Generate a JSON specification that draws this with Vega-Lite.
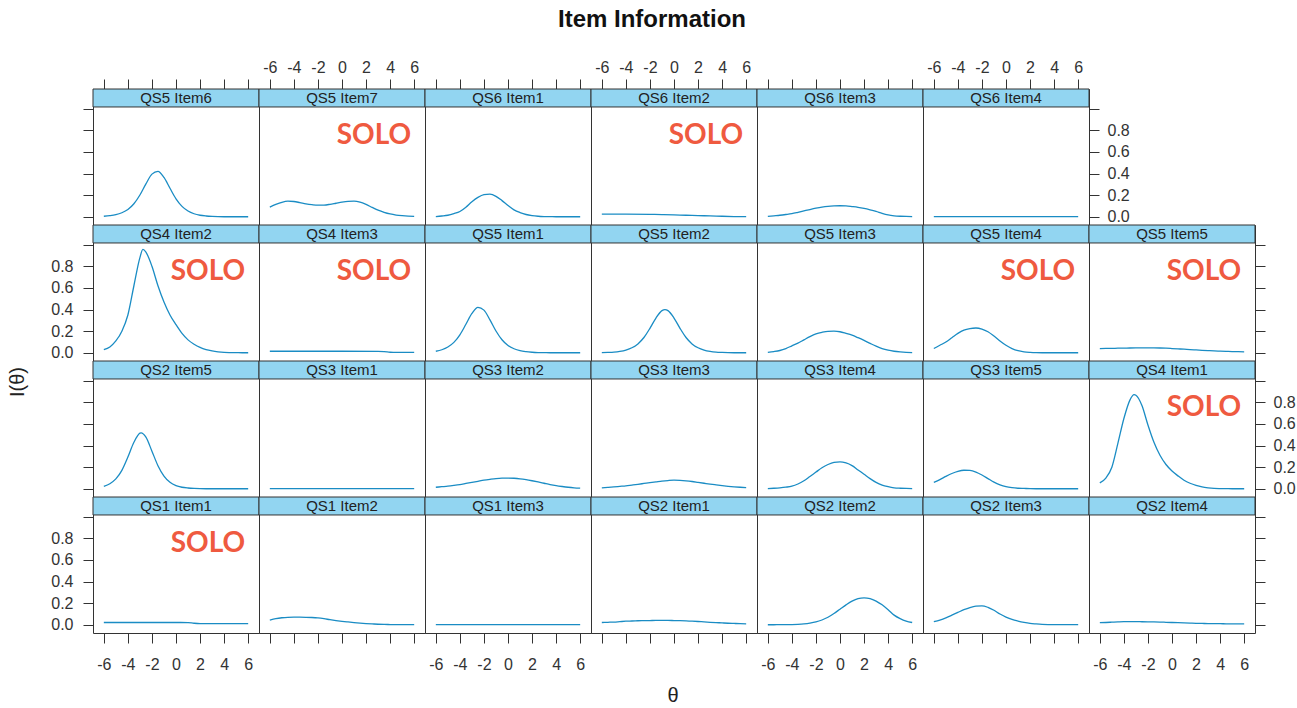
{
"$schema":"https://vega.github.io/schema/vega-lite/v6.json",
"padding":{"left":8,"top":7,"right":5,"bottom":5},
"background":"white",
"datasets":{
"QS5_Item6":[{"t":-6,"v":0.006},{"t":-5.5,"v":0.011},{"t":-5,"v":0.02},{"t":-4.5,"v":0.038},{"t":-4,"v":0.068},{"t":-3.5,"v":0.121},{"t":-3,"v":0.202},{"t":-2.5,"v":0.305},{"t":-2,"v":0.395},{"t":-1.5,"v":0.421},{"t":-1,"v":0.364},{"t":-0.5,"v":0.264},{"t":0,"v":0.167},{"t":0.5,"v":0.097},{"t":1,"v":0.054},{"t":1.5,"v":0.029},{"t":2,"v":0.015},{"t":2.5,"v":0.008},{"t":3,"v":0.004},{"t":3.5,"v":0.002},{"t":4,"v":0.001},{"t":4.5,"v":0.001},{"t":5,"v":0.001},{"t":5.5,"v":0.001},{"t":6,"v":0.001}],
"QS5_Item7":[{"t":-6,"v":0.09},{"t":-5.5,"v":0.115},{"t":-5,"v":0.135},{"t":-4.5,"v":0.145},{"t":-4,"v":0.142},{"t":-3.5,"v":0.132},{"t":-3,"v":0.121},{"t":-2.5,"v":0.113},{"t":-2,"v":0.108},{"t":-1.5,"v":0.109},{"t":-1,"v":0.116},{"t":-0.5,"v":0.126},{"t":0,"v":0.136},{"t":0.5,"v":0.143},{"t":1,"v":0.145},{"t":1.5,"v":0.136},{"t":2,"v":0.115},{"t":2.5,"v":0.088},{"t":3,"v":0.062},{"t":3.5,"v":0.042},{"t":4,"v":0.027},{"t":4.5,"v":0.017},{"t":5,"v":0.011},{"t":5.5,"v":0.007},{"t":6,"v":0.005}],
"QS6_Item1":[{"t":-6,"v":0.003},{"t":-5.5,"v":0.008},{"t":-5,"v":0.015},{"t":-4.5,"v":0.03},{"t":-4,"v":0.05},{"t":-3.5,"v":0.09},{"t":-3,"v":0.14},{"t":-2.5,"v":0.18},{"t":-2,"v":0.205},{"t":-1.5,"v":0.21},{"t":-1,"v":0.19},{"t":-0.5,"v":0.15},{"t":0,"v":0.105},{"t":0.5,"v":0.065},{"t":1,"v":0.04},{"t":1.5,"v":0.022},{"t":2,"v":0.012},{"t":2.5,"v":0.006},{"t":3,"v":0.003},{"t":3.5,"v":0.002},{"t":4,"v":0.001},{"t":4.5,"v":0.001},{"t":5,"v":0.001},{"t":5.5,"v":0.001},{"t":6,"v":0.001}],
"QS6_Item2":[{"t":-6,"v":0.026},{"t":-4,"v":0.025},{"t":-2,"v":0.023},{"t":-1,"v":0.021},{"t":0,"v":0.018},{"t":1,"v":0.015},{"t":2,"v":0.012},{"t":3,"v":0.009},{"t":4,"v":0.006},{"t":5,"v":0.003},{"t":6,"v":0.002}],
"QS6_Item3":[{"t":-6,"v":0.005},{"t":-5.5,"v":0.01},{"t":-5,"v":0.015},{"t":-4.5,"v":0.022},{"t":-4,"v":0.03},{"t":-3.5,"v":0.042},{"t":-3,"v":0.055},{"t":-2.5,"v":0.068},{"t":-2,"v":0.08},{"t":-1.5,"v":0.09},{"t":-1,"v":0.097},{"t":-0.5,"v":0.101},{"t":0,"v":0.103},{"t":0.5,"v":0.101},{"t":1,"v":0.095},{"t":1.5,"v":0.088},{"t":2,"v":0.078},{"t":2.5,"v":0.065},{"t":3,"v":0.05},{"t":3.5,"v":0.032},{"t":4,"v":0.018},{"t":4.5,"v":0.01},{"t":5,"v":0.006},{"t":5.5,"v":0.004},{"t":6,"v":0.003}],
"QS6_Item4":[{"t":-6,"v":0.003},{"t":-3,"v":0.003},{"t":0,"v":0.003},{"t":3,"v":0.003},{"t":6,"v":0.003}],
"QS4_Item2":[{"t":-6,"v":0.03},{"t":-5.5,"v":0.055},{"t":-5,"v":0.11},{"t":-4.5,"v":0.2},{"t":-4,"v":0.35},{"t":-3.5,"v":0.62},{"t":-3,"v":0.88},{"t":-2.75,"v":0.955},{"t":-2.5,"v":0.93},{"t":-2,"v":0.8},{"t":-1.5,"v":0.62},{"t":-1,"v":0.47},{"t":-0.5,"v":0.35},{"t":0,"v":0.26},{"t":0.5,"v":0.18},{"t":1,"v":0.12},{"t":1.5,"v":0.08},{"t":2,"v":0.05},{"t":2.5,"v":0.03},{"t":3,"v":0.018},{"t":3.5,"v":0.01},{"t":4,"v":0.005},{"t":4.5,"v":0.003},{"t":5,"v":0.002},{"t":5.5,"v":0.001},{"t":6,"v":0.001}],
"QS4_Item3":[{"t":-6,"v":0.015},{"t":-3,"v":0.015},{"t":0,"v":0.015},{"t":3,"v":0.013},{"t":3.5,"v":0.011},{"t":4,"v":0.006},{"t":4.5,"v":0.004},{"t":6,"v":0.004}],
"QS5_Item1":[{"t":-6,"v":0.015},{"t":-5.5,"v":0.029},{"t":-5,"v":0.054},{"t":-4.5,"v":0.097},{"t":-4,"v":0.167},{"t":-3.5,"v":0.264},{"t":-3,"v":0.364},{"t":-2.5,"v":0.421},{"t":-2,"v":0.395},{"t":-1.5,"v":0.305},{"t":-1,"v":0.202},{"t":-0.5,"v":0.121},{"t":0,"v":0.068},{"t":0.5,"v":0.038},{"t":1,"v":0.02},{"t":1.5,"v":0.011},{"t":2,"v":0.006},{"t":2.5,"v":0.003},{"t":3,"v":0.002},{"t":3.5,"v":0.001},{"t":4,"v":0.001},{"t":4.5,"v":0.001},{"t":5,"v":0.001},{"t":5.5,"v":0.001},{"t":6,"v":0.001}],
"QS5_Item2":[{"t":-6,"v":0.002},{"t":-5.5,"v":0.004},{"t":-5,"v":0.007},{"t":-4.5,"v":0.014},{"t":-4,"v":0.026},{"t":-3.5,"v":0.047},{"t":-3,"v":0.083},{"t":-2.5,"v":0.142},{"t":-2,"v":0.227},{"t":-1.5,"v":0.322},{"t":-1,"v":0.39},{"t":-0.75,"v":0.4},{"t":-0.5,"v":0.39},{"t":0,"v":0.322},{"t":0.5,"v":0.227},{"t":1,"v":0.142},{"t":1.5,"v":0.083},{"t":2,"v":0.047},{"t":2.5,"v":0.026},{"t":3,"v":0.014},{"t":3.5,"v":0.007},{"t":4,"v":0.004},{"t":4.5,"v":0.002},{"t":5,"v":0.001},{"t":5.5,"v":0.001},{"t":6,"v":0.001}],
"QS5_Item3":[{"t":-6,"v":0.005},{"t":-5.5,"v":0.012},{"t":-5,"v":0.022},{"t":-4.5,"v":0.04},{"t":-4,"v":0.065},{"t":-3.5,"v":0.09},{"t":-3,"v":0.12},{"t":-2.5,"v":0.15},{"t":-2,"v":0.175},{"t":-1.5,"v":0.19},{"t":-1,"v":0.199},{"t":-0.5,"v":0.2},{"t":0,"v":0.195},{"t":0.5,"v":0.18},{"t":1,"v":0.163},{"t":1.5,"v":0.14},{"t":2,"v":0.115},{"t":2.5,"v":0.088},{"t":3,"v":0.062},{"t":3.5,"v":0.04},{"t":4,"v":0.025},{"t":4.5,"v":0.015},{"t":5,"v":0.009},{"t":5.5,"v":0.005},{"t":6,"v":0.003}],
"QS5_Item4":[{"t":-6,"v":0.04},{"t":-5.5,"v":0.07},{"t":-5,"v":0.1},{"t":-4.5,"v":0.14},{"t":-4,"v":0.18},{"t":-3.5,"v":0.21},{"t":-3,"v":0.225},{"t":-2.5,"v":0.23},{"t":-2,"v":0.22},{"t":-1.5,"v":0.195},{"t":-1,"v":0.155},{"t":-0.5,"v":0.11},{"t":0,"v":0.07},{"t":0.5,"v":0.04},{"t":1,"v":0.02},{"t":1.5,"v":0.01},{"t":2,"v":0.005},{"t":2.5,"v":0.002},{"t":3,"v":0.001},{"t":3.5,"v":0.001},{"t":4,"v":0.001},{"t":4.5,"v":0.001},{"t":5,"v":0.001},{"t":5.5,"v":0.001},{"t":6,"v":0.001}],
"QS5_Item5":[{"t":-6,"v":0.04},{"t":-5.5,"v":0.041},{"t":-5,"v":0.042},{"t":-4.5,"v":0.043},{"t":-4,"v":0.044},{"t":-3.5,"v":0.045},{"t":-3,"v":0.046},{"t":-2.5,"v":0.047},{"t":-2,"v":0.047},{"t":-1.5,"v":0.046},{"t":-1,"v":0.045},{"t":-0.5,"v":0.043},{"t":0,"v":0.04},{"t":0.5,"v":0.037},{"t":1,"v":0.034},{"t":1.5,"v":0.03},{"t":2,"v":0.027},{"t":2.5,"v":0.024},{"t":3,"v":0.021},{"t":3.5,"v":0.018},{"t":4,"v":0.016},{"t":4.5,"v":0.014},{"t":5,"v":0.012},{"t":5.5,"v":0.011},{"t":6,"v":0.01}],
"QS2_Item5":[{"t":-6,"v":0.023},{"t":-5.5,"v":0.048},{"t":-5,"v":0.092},{"t":-4.5,"v":0.171},{"t":-4,"v":0.294},{"t":-3.5,"v":0.43},{"t":-3,"v":0.515},{"t":-2.9,"v":0.518},{"t":-2.5,"v":0.478},{"t":-2,"v":0.348},{"t":-1.5,"v":0.214},{"t":-1,"v":0.118},{"t":-0.5,"v":0.061},{"t":0,"v":0.03},{"t":0.5,"v":0.015},{"t":1,"v":0.008},{"t":1.5,"v":0.004},{"t":2,"v":0.002},{"t":2.5,"v":0.001},{"t":3,"v":0.001},{"t":4,"v":0.001},{"t":5,"v":0.001},{"t":6,"v":0.001}],
"QS3_Item1":[{"t":-6,"v":0.002},{"t":-3,"v":0.002},{"t":0,"v":0.002},{"t":3,"v":0.002},{"t":6,"v":0.002}],
"QS3_Item2":[{"t":-6,"v":0.015},{"t":-5.5,"v":0.02},{"t":-5,"v":0.025},{"t":-4.5,"v":0.032},{"t":-4,"v":0.04},{"t":-3.5,"v":0.05},{"t":-3,"v":0.06},{"t":-2.5,"v":0.07},{"t":-2,"v":0.08},{"t":-1.5,"v":0.088},{"t":-1,"v":0.095},{"t":-0.5,"v":0.099},{"t":0,"v":0.1},{"t":0.5,"v":0.098},{"t":1,"v":0.093},{"t":1.5,"v":0.085},{"t":2,"v":0.075},{"t":2.5,"v":0.064},{"t":3,"v":0.052},{"t":3.5,"v":0.04},{"t":4,"v":0.03},{"t":4.5,"v":0.022},{"t":5,"v":0.015},{"t":5.5,"v":0.01},{"t":6,"v":0.007}],
"QS3_Item3":[{"t":-6,"v":0.01},{"t":-5.5,"v":0.014},{"t":-5,"v":0.018},{"t":-4.5,"v":0.023},{"t":-4,"v":0.028},{"t":-3.5,"v":0.035},{"t":-3,"v":0.042},{"t":-2.5,"v":0.05},{"t":-2,"v":0.058},{"t":-1.5,"v":0.065},{"t":-1,"v":0.072},{"t":-0.5,"v":0.077},{"t":0,"v":0.08},{"t":0.5,"v":0.078},{"t":1,"v":0.074},{"t":1.5,"v":0.068},{"t":2,"v":0.06},{"t":2.5,"v":0.052},{"t":3,"v":0.044},{"t":3.5,"v":0.037},{"t":4,"v":0.03},{"t":4.5,"v":0.024},{"t":5,"v":0.019},{"t":5.5,"v":0.015},{"t":6,"v":0.012}],
"QS3_Item4":[{"t":-6,"v":0.003},{"t":-5.5,"v":0.006},{"t":-5,"v":0.01},{"t":-4.5,"v":0.016},{"t":-4,"v":0.025},{"t":-3.5,"v":0.045},{"t":-3,"v":0.075},{"t":-2.5,"v":0.115},{"t":-2,"v":0.155},{"t":-1.5,"v":0.195},{"t":-1,"v":0.225},{"t":-0.5,"v":0.245},{"t":0,"v":0.25},{"t":0.5,"v":0.24},{"t":1,"v":0.215},{"t":1.5,"v":0.175},{"t":2,"v":0.135},{"t":2.5,"v":0.095},{"t":3,"v":0.06},{"t":3.5,"v":0.035},{"t":4,"v":0.02},{"t":4.5,"v":0.01},{"t":5,"v":0.006},{"t":5.5,"v":0.004},{"t":6,"v":0.003}],
"QS3_Item5":[{"t":-6,"v":0.06},{"t":-5.5,"v":0.085},{"t":-5,"v":0.115},{"t":-4.5,"v":0.142},{"t":-4,"v":0.162},{"t":-3.5,"v":0.172},{"t":-3,"v":0.17},{"t":-2.5,"v":0.155},{"t":-2,"v":0.128},{"t":-1.5,"v":0.095},{"t":-1,"v":0.062},{"t":-0.5,"v":0.037},{"t":0,"v":0.02},{"t":0.5,"v":0.011},{"t":1,"v":0.006},{"t":1.5,"v":0.004},{"t":2,"v":0.002},{"t":2.5,"v":0.001},{"t":3,"v":0.001},{"t":4,"v":0.001},{"t":5,"v":0.001},{"t":6,"v":0.001}],
"QS4_Item1":[{"t":-6,"v":0.055},{"t":-5.5,"v":0.1},{"t":-5,"v":0.2},{"t":-4.5,"v":0.42},{"t":-4,"v":0.65},{"t":-3.5,"v":0.82},{"t":-3.15,"v":0.87},{"t":-3,"v":0.865},{"t":-2.5,"v":0.77},{"t":-2,"v":0.59},{"t":-1.5,"v":0.43},{"t":-1,"v":0.31},{"t":-0.5,"v":0.225},{"t":0,"v":0.165},{"t":0.5,"v":0.12},{"t":1,"v":0.08},{"t":1.5,"v":0.052},{"t":2,"v":0.032},{"t":2.5,"v":0.018},{"t":3,"v":0.01},{"t":3.5,"v":0.005},{"t":4,"v":0.003},{"t":4.5,"v":0.002},{"t":5,"v":0.001},{"t":5.5,"v":0.001},{"t":6,"v":0.001}],
"QS1_Item1":[{"t":-6,"v":0.022},{"t":-3,"v":0.022},{"t":0,"v":0.022},{"t":1,"v":0.021},{"t":1.5,"v":0.015},{"t":2,"v":0.012},{"t":4,"v":0.012},{"t":6,"v":0.012}],
"QS1_Item2":[{"t":-6,"v":0.045},{"t":-5.5,"v":0.058},{"t":-5,"v":0.066},{"t":-4.5,"v":0.07},{"t":-4,"v":0.071},{"t":-3.5,"v":0.071},{"t":-3,"v":0.07},{"t":-2.5,"v":0.068},{"t":-2,"v":0.064},{"t":-1.5,"v":0.057},{"t":-1,"v":0.048},{"t":-0.5,"v":0.04},{"t":0,"v":0.033},{"t":0.5,"v":0.027},{"t":1,"v":0.021},{"t":1.5,"v":0.016},{"t":2,"v":0.012},{"t":2.5,"v":0.009},{"t":3,"v":0.006},{"t":3.5,"v":0.004},{"t":4,"v":0.003},{"t":4.5,"v":0.002},{"t":5,"v":0.002},{"t":5.5,"v":0.002},{"t":6,"v":0.002}],
"QS1_Item3":[{"t":-6,"v":0.002},{"t":-3,"v":0.002},{"t":0,"v":0.002},{"t":3,"v":0.002},{"t":6,"v":0.002}],
"QS2_Item1":[{"t":-6,"v":0.022},{"t":-5.5,"v":0.024},{"t":-5,"v":0.026},{"t":-4.5,"v":0.03},{"t":-4,"v":0.034},{"t":-3.5,"v":0.036},{"t":-3,"v":0.038},{"t":-2.5,"v":0.039},{"t":-2,"v":0.04},{"t":-1.5,"v":0.041},{"t":-1,"v":0.041},{"t":-0.5,"v":0.041},{"t":0,"v":0.04},{"t":0.5,"v":0.039},{"t":1,"v":0.037},{"t":1.5,"v":0.034},{"t":2,"v":0.031},{"t":2.5,"v":0.028},{"t":3,"v":0.024},{"t":3.5,"v":0.021},{"t":4,"v":0.018},{"t":4.5,"v":0.015},{"t":5,"v":0.013},{"t":5.5,"v":0.011},{"t":6,"v":0.01}],
"QS2_Item2":[{"t":-6,"v":0.001},{"t":-5.5,"v":0.001},{"t":-5,"v":0.002},{"t":-4.5,"v":0.002},{"t":-4,"v":0.003},{"t":-3.5,"v":0.005},{"t":-3,"v":0.009},{"t":-2.5,"v":0.016},{"t":-2,"v":0.027},{"t":-1.5,"v":0.045},{"t":-1,"v":0.07},{"t":-0.5,"v":0.105},{"t":0,"v":0.145},{"t":0.5,"v":0.185},{"t":1,"v":0.22},{"t":1.5,"v":0.243},{"t":2,"v":0.25},{"t":2.5,"v":0.243},{"t":3,"v":0.22},{"t":3.5,"v":0.185},{"t":4,"v":0.14},{"t":4.5,"v":0.09},{"t":5,"v":0.058},{"t":5.5,"v":0.035},{"t":6,"v":0.022}],
"QS2_Item3":[{"t":-6,"v":0.03},{"t":-5.5,"v":0.045},{"t":-5,"v":0.065},{"t":-4.5,"v":0.09},{"t":-4,"v":0.115},{"t":-3.5,"v":0.14},{"t":-3,"v":0.16},{"t":-2.5,"v":0.173},{"t":-2,"v":0.176},{"t":-1.5,"v":0.162},{"t":-1,"v":0.135},{"t":-0.5,"v":0.1},{"t":0,"v":0.072},{"t":0.5,"v":0.05},{"t":1,"v":0.035},{"t":1.5,"v":0.023},{"t":2,"v":0.014},{"t":2.5,"v":0.009},{"t":3,"v":0.005},{"t":3.5,"v":0.003},{"t":4,"v":0.002},{"t":5,"v":0.002},{"t":6,"v":0.002}],
"QS2_Item4":[{"t":-6,"v":0.02},{"t":-5.5,"v":0.022},{"t":-5,"v":0.025},{"t":-4.5,"v":0.028},{"t":-4,"v":0.03},{"t":-3.5,"v":0.03},{"t":-3,"v":0.03},{"t":-2.5,"v":0.029},{"t":-2,"v":0.028},{"t":-1.5,"v":0.027},{"t":-1,"v":0.026},{"t":-0.5,"v":0.024},{"t":0,"v":0.022},{"t":0.5,"v":0.02},{"t":1,"v":0.018},{"t":1.5,"v":0.016},{"t":2,"v":0.014},{"t":2.5,"v":0.013},{"t":3,"v":0.012},{"t":3.5,"v":0.011},{"t":4,"v":0.011},{"t":4.5,"v":0.01},{"t":5,"v":0.01},{"t":5.5,"v":0.01},{"t":6,"v":0.01}]
},
"title":{"text":"Item Information","font":"Liberation Sans","fontSize":24,"fontWeight":"bold","color":"#111111","anchor":"middle","offset":27},
"vconcat":[{
"title":{"text":"I(θ)","orient":"left","font":"Liberation Sans","fontSize":20,"fontWeight":"normal","color":"#222222","anchor":"middle","offset":22},
"vconcat":[{
"title":{"text":"θ","orient":"bottom","font":"Liberation Sans","fontSize":20,"fontWeight":"normal","color":"#222222","anchor":"middle","offset":13},
"columns":7,"spacing":0,"bounds":"flush","align":"all",
"concat":[
{"width":166,"height":136,"layer":[
{"data":{"values":[{"p":"QS5 Item6"}]},"layer":[{"mark":"rect","encoding":{"x":{"datum":-6.9},"x2":{"datum":6.9},"y":{"datum":1.015},"y2":{"datum":1.181}}},{"mark":{"type":"text","style":"strip"},"encoding":{"x":{"datum":0},"y":{"datum":1.098},"text":{"field":"p"}}}]},
{"data":{"name":"QS5_Item6"},"mark":"line","encoding":{"x":{"field":"t","type":"quantitative","scale":{"domain":[-6.9,6.9],"nice":false,"zero":false},"axis":{"orient":"top","values":[-6,-4,-2,0,2,4,6],"labels":false,"title":null}},"y":{"field":"v","type":"quantitative","scale":{"domain":[-0.075,1.181],"nice":false,"zero":false},"axis":{"orient":"left","values":[0,0.2,0.4,0.6,0.8,1],"labels":false,"title":null}}}}]},
{"width":166,"height":136,"layer":[
{"data":{"values":[{"p":"QS5 Item7","note":"SOLO"}]},"layer":[{"mark":"rect","encoding":{"x":{"datum":-6.9},"x2":{"datum":6.9},"y":{"datum":1.015},"y2":{"datum":1.181}}},{"mark":{"type":"text","style":"strip"},"encoding":{"x":{"datum":0},"y":{"datum":1.098},"text":{"field":"p"}}},{"mark":{"type":"text","style":"solo"},"encoding":{"x":{"datum":5.75},"y":{"datum":0.67},"text":{"field":"note"}}}]},
{"data":{"name":"QS5_Item7"},"mark":"line","encoding":{"x":{"field":"t","type":"quantitative","scale":{"domain":[-6.9,6.9],"nice":false,"zero":false},"axis":{"orient":"top","values":[-6,-4,-2,0,2,4,6],"labelExpr":"''+datum.value","title":null}},"y":{"field":"v","type":"quantitative","scale":{"domain":[-0.075,1.181],"nice":false,"zero":false},"axis":{"ticks":false,"labels":false,"title":null}}}}]},
{"width":166,"height":136,"layer":[
{"data":{"values":[{"p":"QS6 Item1"}]},"layer":[{"mark":"rect","encoding":{"x":{"datum":-6.9},"x2":{"datum":6.9},"y":{"datum":1.015},"y2":{"datum":1.181}}},{"mark":{"type":"text","style":"strip"},"encoding":{"x":{"datum":0},"y":{"datum":1.098},"text":{"field":"p"}}}]},
{"data":{"name":"QS6_Item1"},"mark":"line","encoding":{"x":{"field":"t","type":"quantitative","scale":{"domain":[-6.9,6.9],"nice":false,"zero":false},"axis":{"orient":"top","values":[-6,-4,-2,0,2,4,6],"labels":false,"title":null}},"y":{"field":"v","type":"quantitative","scale":{"domain":[-0.075,1.181],"nice":false,"zero":false},"axis":{"ticks":false,"labels":false,"title":null}}}}]},
{"width":166,"height":136,"layer":[
{"data":{"values":[{"p":"QS6 Item2","note":"SOLO"}]},"layer":[{"mark":"rect","encoding":{"x":{"datum":-6.9},"x2":{"datum":6.9},"y":{"datum":1.015},"y2":{"datum":1.181}}},{"mark":{"type":"text","style":"strip"},"encoding":{"x":{"datum":0},"y":{"datum":1.098},"text":{"field":"p"}}},{"mark":{"type":"text","style":"solo"},"encoding":{"x":{"datum":5.75},"y":{"datum":0.67},"text":{"field":"note"}}}]},
{"data":{"name":"QS6_Item2"},"mark":"line","encoding":{"x":{"field":"t","type":"quantitative","scale":{"domain":[-6.9,6.9],"nice":false,"zero":false},"axis":{"orient":"top","values":[-6,-4,-2,0,2,4,6],"labelExpr":"''+datum.value","title":null}},"y":{"field":"v","type":"quantitative","scale":{"domain":[-0.075,1.181],"nice":false,"zero":false},"axis":{"ticks":false,"labels":false,"title":null}}}}]},
{"width":166,"height":136,"layer":[
{"data":{"values":[{"p":"QS6 Item3"}]},"layer":[{"mark":"rect","encoding":{"x":{"datum":-6.9},"x2":{"datum":6.9},"y":{"datum":1.015},"y2":{"datum":1.181}}},{"mark":{"type":"text","style":"strip"},"encoding":{"x":{"datum":0},"y":{"datum":1.098},"text":{"field":"p"}}}]},
{"data":{"name":"QS6_Item3"},"mark":"line","encoding":{"x":{"field":"t","type":"quantitative","scale":{"domain":[-6.9,6.9],"nice":false,"zero":false},"axis":{"orient":"top","values":[-6,-4,-2,0,2,4,6],"labels":false,"title":null}},"y":{"field":"v","type":"quantitative","scale":{"domain":[-0.075,1.181],"nice":false,"zero":false},"axis":{"ticks":false,"labels":false,"title":null}}}}]},
{"width":166,"height":136,"layer":[
{"data":{"values":[{"p":"QS6 Item4"}]},"layer":[{"mark":"rect","encoding":{"x":{"datum":-6.9},"x2":{"datum":6.9},"y":{"datum":1.015},"y2":{"datum":1.181}}},{"mark":{"type":"text","style":"strip"},"encoding":{"x":{"datum":0},"y":{"datum":1.098},"text":{"field":"p"}}}]},
{"data":{"name":"QS6_Item4"},"mark":"line","encoding":{"x":{"field":"t","type":"quantitative","scale":{"domain":[-6.9,6.9],"nice":false,"zero":false},"axis":{"orient":"top","values":[-6,-4,-2,0,2,4,6],"labelExpr":"''+datum.value","title":null}},"y":{"field":"v","type":"quantitative","scale":{"domain":[-0.075,1.181],"nice":false,"zero":false},"axis":{"orient":"right","values":[0,0.2,0.4,0.6,0.8,1],"labelExpr":"datum.value>0.9?'':format(datum.value,'.1f')","title":null}}}}]},
{"width":166,"height":136,"view":{"stroke":null},"data":{"values":[]},"mark":"point"},
{"width":166,"height":136,"layer":[
{"data":{"values":[{"p":"QS4 Item2","note":"SOLO"}]},"layer":[{"mark":"rect","encoding":{"x":{"datum":-6.9},"x2":{"datum":6.9},"y":{"datum":1.015},"y2":{"datum":1.181}}},{"mark":{"type":"text","style":"strip"},"encoding":{"x":{"datum":0},"y":{"datum":1.098},"text":{"field":"p"}}},{"mark":{"type":"text","style":"solo"},"encoding":{"x":{"datum":5.75},"y":{"datum":0.67},"text":{"field":"note"}}}]},
{"data":{"name":"QS4_Item2"},"mark":"line","encoding":{"x":{"field":"t","type":"quantitative","scale":{"domain":[-6.9,6.9],"nice":false,"zero":false},"axis":{"ticks":false,"labels":false,"title":null}},"y":{"field":"v","type":"quantitative","scale":{"domain":[-0.075,1.181],"nice":false,"zero":false},"axis":{"orient":"left","values":[0,0.2,0.4,0.6,0.8,1],"labelExpr":"datum.value>0.9?'':format(datum.value,'.1f')","title":null}}}}]},
{"width":166,"height":136,"layer":[
{"data":{"values":[{"p":"QS4 Item3","note":"SOLO"}]},"layer":[{"mark":"rect","encoding":{"x":{"datum":-6.9},"x2":{"datum":6.9},"y":{"datum":1.015},"y2":{"datum":1.181}}},{"mark":{"type":"text","style":"strip"},"encoding":{"x":{"datum":0},"y":{"datum":1.098},"text":{"field":"p"}}},{"mark":{"type":"text","style":"solo"},"encoding":{"x":{"datum":5.75},"y":{"datum":0.67},"text":{"field":"note"}}}]},
{"data":{"name":"QS4_Item3"},"mark":"line","encoding":{"x":{"field":"t","type":"quantitative","scale":{"domain":[-6.9,6.9],"nice":false,"zero":false},"axis":{"ticks":false,"labels":false,"title":null}},"y":{"field":"v","type":"quantitative","scale":{"domain":[-0.075,1.181],"nice":false,"zero":false},"axis":{"ticks":false,"labels":false,"title":null}}}}]},
{"width":166,"height":136,"layer":[
{"data":{"values":[{"p":"QS5 Item1"}]},"layer":[{"mark":"rect","encoding":{"x":{"datum":-6.9},"x2":{"datum":6.9},"y":{"datum":1.015},"y2":{"datum":1.181}}},{"mark":{"type":"text","style":"strip"},"encoding":{"x":{"datum":0},"y":{"datum":1.098},"text":{"field":"p"}}}]},
{"data":{"name":"QS5_Item1"},"mark":"line","encoding":{"x":{"field":"t","type":"quantitative","scale":{"domain":[-6.9,6.9],"nice":false,"zero":false},"axis":{"ticks":false,"labels":false,"title":null}},"y":{"field":"v","type":"quantitative","scale":{"domain":[-0.075,1.181],"nice":false,"zero":false},"axis":{"ticks":false,"labels":false,"title":null}}}}]},
{"width":166,"height":136,"layer":[
{"data":{"values":[{"p":"QS5 Item2"}]},"layer":[{"mark":"rect","encoding":{"x":{"datum":-6.9},"x2":{"datum":6.9},"y":{"datum":1.015},"y2":{"datum":1.181}}},{"mark":{"type":"text","style":"strip"},"encoding":{"x":{"datum":0},"y":{"datum":1.098},"text":{"field":"p"}}}]},
{"data":{"name":"QS5_Item2"},"mark":"line","encoding":{"x":{"field":"t","type":"quantitative","scale":{"domain":[-6.9,6.9],"nice":false,"zero":false},"axis":{"ticks":false,"labels":false,"title":null}},"y":{"field":"v","type":"quantitative","scale":{"domain":[-0.075,1.181],"nice":false,"zero":false},"axis":{"ticks":false,"labels":false,"title":null}}}}]},
{"width":166,"height":136,"layer":[
{"data":{"values":[{"p":"QS5 Item3"}]},"layer":[{"mark":"rect","encoding":{"x":{"datum":-6.9},"x2":{"datum":6.9},"y":{"datum":1.015},"y2":{"datum":1.181}}},{"mark":{"type":"text","style":"strip"},"encoding":{"x":{"datum":0},"y":{"datum":1.098},"text":{"field":"p"}}}]},
{"data":{"name":"QS5_Item3"},"mark":"line","encoding":{"x":{"field":"t","type":"quantitative","scale":{"domain":[-6.9,6.9],"nice":false,"zero":false},"axis":{"ticks":false,"labels":false,"title":null}},"y":{"field":"v","type":"quantitative","scale":{"domain":[-0.075,1.181],"nice":false,"zero":false},"axis":{"ticks":false,"labels":false,"title":null}}}}]},
{"width":166,"height":136,"layer":[
{"data":{"values":[{"p":"QS5 Item4","note":"SOLO"}]},"layer":[{"mark":"rect","encoding":{"x":{"datum":-6.9},"x2":{"datum":6.9},"y":{"datum":1.015},"y2":{"datum":1.181}}},{"mark":{"type":"text","style":"strip"},"encoding":{"x":{"datum":0},"y":{"datum":1.098},"text":{"field":"p"}}},{"mark":{"type":"text","style":"solo"},"encoding":{"x":{"datum":5.75},"y":{"datum":0.67},"text":{"field":"note"}}}]},
{"data":{"name":"QS5_Item4"},"mark":"line","encoding":{"x":{"field":"t","type":"quantitative","scale":{"domain":[-6.9,6.9],"nice":false,"zero":false},"axis":{"ticks":false,"labels":false,"title":null}},"y":{"field":"v","type":"quantitative","scale":{"domain":[-0.075,1.181],"nice":false,"zero":false},"axis":{"ticks":false,"labels":false,"title":null}}}}]},
{"width":166,"height":136,"layer":[
{"data":{"values":[{"p":"QS5 Item5","note":"SOLO"}]},"layer":[{"mark":"rect","encoding":{"x":{"datum":-6.9},"x2":{"datum":6.9},"y":{"datum":1.015},"y2":{"datum":1.181}}},{"mark":{"type":"text","style":"strip"},"encoding":{"x":{"datum":0},"y":{"datum":1.098},"text":{"field":"p"}}},{"mark":{"type":"text","style":"solo"},"encoding":{"x":{"datum":5.75},"y":{"datum":0.67},"text":{"field":"note"}}}]},
{"data":{"name":"QS5_Item5"},"mark":"line","encoding":{"x":{"field":"t","type":"quantitative","scale":{"domain":[-6.9,6.9],"nice":false,"zero":false},"axis":{"ticks":false,"labels":false,"title":null}},"y":{"field":"v","type":"quantitative","scale":{"domain":[-0.075,1.181],"nice":false,"zero":false},"axis":{"orient":"right","values":[0,0.2,0.4,0.6,0.8,1],"labels":false,"title":null}}}}]},
{"width":166,"height":136,"layer":[
{"data":{"values":[{"p":"QS2 Item5"}]},"layer":[{"mark":"rect","encoding":{"x":{"datum":-6.9},"x2":{"datum":6.9},"y":{"datum":1.015},"y2":{"datum":1.181}}},{"mark":{"type":"text","style":"strip"},"encoding":{"x":{"datum":0},"y":{"datum":1.098},"text":{"field":"p"}}}]},
{"data":{"name":"QS2_Item5"},"mark":"line","encoding":{"x":{"field":"t","type":"quantitative","scale":{"domain":[-6.9,6.9],"nice":false,"zero":false},"axis":{"ticks":false,"labels":false,"title":null}},"y":{"field":"v","type":"quantitative","scale":{"domain":[-0.075,1.181],"nice":false,"zero":false},"axis":{"orient":"left","values":[0,0.2,0.4,0.6,0.8,1],"labels":false,"title":null}}}}]},
{"width":166,"height":136,"layer":[
{"data":{"values":[{"p":"QS3 Item1"}]},"layer":[{"mark":"rect","encoding":{"x":{"datum":-6.9},"x2":{"datum":6.9},"y":{"datum":1.015},"y2":{"datum":1.181}}},{"mark":{"type":"text","style":"strip"},"encoding":{"x":{"datum":0},"y":{"datum":1.098},"text":{"field":"p"}}}]},
{"data":{"name":"QS3_Item1"},"mark":"line","encoding":{"x":{"field":"t","type":"quantitative","scale":{"domain":[-6.9,6.9],"nice":false,"zero":false},"axis":{"ticks":false,"labels":false,"title":null}},"y":{"field":"v","type":"quantitative","scale":{"domain":[-0.075,1.181],"nice":false,"zero":false},"axis":{"ticks":false,"labels":false,"title":null}}}}]},
{"width":166,"height":136,"layer":[
{"data":{"values":[{"p":"QS3 Item2"}]},"layer":[{"mark":"rect","encoding":{"x":{"datum":-6.9},"x2":{"datum":6.9},"y":{"datum":1.015},"y2":{"datum":1.181}}},{"mark":{"type":"text","style":"strip"},"encoding":{"x":{"datum":0},"y":{"datum":1.098},"text":{"field":"p"}}}]},
{"data":{"name":"QS3_Item2"},"mark":"line","encoding":{"x":{"field":"t","type":"quantitative","scale":{"domain":[-6.9,6.9],"nice":false,"zero":false},"axis":{"ticks":false,"labels":false,"title":null}},"y":{"field":"v","type":"quantitative","scale":{"domain":[-0.075,1.181],"nice":false,"zero":false},"axis":{"ticks":false,"labels":false,"title":null}}}}]},
{"width":166,"height":136,"layer":[
{"data":{"values":[{"p":"QS3 Item3"}]},"layer":[{"mark":"rect","encoding":{"x":{"datum":-6.9},"x2":{"datum":6.9},"y":{"datum":1.015},"y2":{"datum":1.181}}},{"mark":{"type":"text","style":"strip"},"encoding":{"x":{"datum":0},"y":{"datum":1.098},"text":{"field":"p"}}}]},
{"data":{"name":"QS3_Item3"},"mark":"line","encoding":{"x":{"field":"t","type":"quantitative","scale":{"domain":[-6.9,6.9],"nice":false,"zero":false},"axis":{"ticks":false,"labels":false,"title":null}},"y":{"field":"v","type":"quantitative","scale":{"domain":[-0.075,1.181],"nice":false,"zero":false},"axis":{"ticks":false,"labels":false,"title":null}}}}]},
{"width":166,"height":136,"layer":[
{"data":{"values":[{"p":"QS3 Item4"}]},"layer":[{"mark":"rect","encoding":{"x":{"datum":-6.9},"x2":{"datum":6.9},"y":{"datum":1.015},"y2":{"datum":1.181}}},{"mark":{"type":"text","style":"strip"},"encoding":{"x":{"datum":0},"y":{"datum":1.098},"text":{"field":"p"}}}]},
{"data":{"name":"QS3_Item4"},"mark":"line","encoding":{"x":{"field":"t","type":"quantitative","scale":{"domain":[-6.9,6.9],"nice":false,"zero":false},"axis":{"ticks":false,"labels":false,"title":null}},"y":{"field":"v","type":"quantitative","scale":{"domain":[-0.075,1.181],"nice":false,"zero":false},"axis":{"ticks":false,"labels":false,"title":null}}}}]},
{"width":166,"height":136,"layer":[
{"data":{"values":[{"p":"QS3 Item5"}]},"layer":[{"mark":"rect","encoding":{"x":{"datum":-6.9},"x2":{"datum":6.9},"y":{"datum":1.015},"y2":{"datum":1.181}}},{"mark":{"type":"text","style":"strip"},"encoding":{"x":{"datum":0},"y":{"datum":1.098},"text":{"field":"p"}}}]},
{"data":{"name":"QS3_Item5"},"mark":"line","encoding":{"x":{"field":"t","type":"quantitative","scale":{"domain":[-6.9,6.9],"nice":false,"zero":false},"axis":{"ticks":false,"labels":false,"title":null}},"y":{"field":"v","type":"quantitative","scale":{"domain":[-0.075,1.181],"nice":false,"zero":false},"axis":{"ticks":false,"labels":false,"title":null}}}}]},
{"width":166,"height":136,"layer":[
{"data":{"values":[{"p":"QS4 Item1","note":"SOLO"}]},"layer":[{"mark":"rect","encoding":{"x":{"datum":-6.9},"x2":{"datum":6.9},"y":{"datum":1.015},"y2":{"datum":1.181}}},{"mark":{"type":"text","style":"strip"},"encoding":{"x":{"datum":0},"y":{"datum":1.098},"text":{"field":"p"}}},{"mark":{"type":"text","style":"solo"},"encoding":{"x":{"datum":5.75},"y":{"datum":0.67},"text":{"field":"note"}}}]},
{"data":{"name":"QS4_Item1"},"mark":"line","encoding":{"x":{"field":"t","type":"quantitative","scale":{"domain":[-6.9,6.9],"nice":false,"zero":false},"axis":{"ticks":false,"labels":false,"title":null}},"y":{"field":"v","type":"quantitative","scale":{"domain":[-0.075,1.181],"nice":false,"zero":false},"axis":{"orient":"right","values":[0,0.2,0.4,0.6,0.8,1],"labelExpr":"datum.value>0.9?'':format(datum.value,'.1f')","title":null}}}}]},
{"width":166,"height":136,"layer":[
{"data":{"values":[{"p":"QS1 Item1","note":"SOLO"}]},"layer":[{"mark":"rect","encoding":{"x":{"datum":-6.9},"x2":{"datum":6.9},"y":{"datum":1.015},"y2":{"datum":1.181}}},{"mark":{"type":"text","style":"strip"},"encoding":{"x":{"datum":0},"y":{"datum":1.098},"text":{"field":"p"}}},{"mark":{"type":"text","style":"solo"},"encoding":{"x":{"datum":5.75},"y":{"datum":0.67},"text":{"field":"note"}}}]},
{"data":{"name":"QS1_Item1"},"mark":"line","encoding":{"x":{"field":"t","type":"quantitative","scale":{"domain":[-6.9,6.9],"nice":false,"zero":false},"axis":{"orient":"bottom","values":[-6,-4,-2,0,2,4,6],"labelExpr":"''+datum.value","title":null}},"y":{"field":"v","type":"quantitative","scale":{"domain":[-0.075,1.181],"nice":false,"zero":false},"axis":{"orient":"left","values":[0,0.2,0.4,0.6,0.8,1],"labelExpr":"datum.value>0.9?'':format(datum.value,'.1f')","title":null}}}}]},
{"width":166,"height":136,"layer":[
{"data":{"values":[{"p":"QS1 Item2"}]},"layer":[{"mark":"rect","encoding":{"x":{"datum":-6.9},"x2":{"datum":6.9},"y":{"datum":1.015},"y2":{"datum":1.181}}},{"mark":{"type":"text","style":"strip"},"encoding":{"x":{"datum":0},"y":{"datum":1.098},"text":{"field":"p"}}}]},
{"data":{"name":"QS1_Item2"},"mark":"line","encoding":{"x":{"field":"t","type":"quantitative","scale":{"domain":[-6.9,6.9],"nice":false,"zero":false},"axis":{"orient":"bottom","values":[-6,-4,-2,0,2,4,6],"labels":false,"title":null}},"y":{"field":"v","type":"quantitative","scale":{"domain":[-0.075,1.181],"nice":false,"zero":false},"axis":{"ticks":false,"labels":false,"title":null}}}}]},
{"width":166,"height":136,"layer":[
{"data":{"values":[{"p":"QS1 Item3"}]},"layer":[{"mark":"rect","encoding":{"x":{"datum":-6.9},"x2":{"datum":6.9},"y":{"datum":1.015},"y2":{"datum":1.181}}},{"mark":{"type":"text","style":"strip"},"encoding":{"x":{"datum":0},"y":{"datum":1.098},"text":{"field":"p"}}}]},
{"data":{"name":"QS1_Item3"},"mark":"line","encoding":{"x":{"field":"t","type":"quantitative","scale":{"domain":[-6.9,6.9],"nice":false,"zero":false},"axis":{"orient":"bottom","values":[-6,-4,-2,0,2,4,6],"labelExpr":"''+datum.value","title":null}},"y":{"field":"v","type":"quantitative","scale":{"domain":[-0.075,1.181],"nice":false,"zero":false},"axis":{"ticks":false,"labels":false,"title":null}}}}]},
{"width":166,"height":136,"layer":[
{"data":{"values":[{"p":"QS2 Item1"}]},"layer":[{"mark":"rect","encoding":{"x":{"datum":-6.9},"x2":{"datum":6.9},"y":{"datum":1.015},"y2":{"datum":1.181}}},{"mark":{"type":"text","style":"strip"},"encoding":{"x":{"datum":0},"y":{"datum":1.098},"text":{"field":"p"}}}]},
{"data":{"name":"QS2_Item1"},"mark":"line","encoding":{"x":{"field":"t","type":"quantitative","scale":{"domain":[-6.9,6.9],"nice":false,"zero":false},"axis":{"orient":"bottom","values":[-6,-4,-2,0,2,4,6],"labels":false,"title":null}},"y":{"field":"v","type":"quantitative","scale":{"domain":[-0.075,1.181],"nice":false,"zero":false},"axis":{"ticks":false,"labels":false,"title":null}}}}]},
{"width":166,"height":136,"layer":[
{"data":{"values":[{"p":"QS2 Item2"}]},"layer":[{"mark":"rect","encoding":{"x":{"datum":-6.9},"x2":{"datum":6.9},"y":{"datum":1.015},"y2":{"datum":1.181}}},{"mark":{"type":"text","style":"strip"},"encoding":{"x":{"datum":0},"y":{"datum":1.098},"text":{"field":"p"}}}]},
{"data":{"name":"QS2_Item2"},"mark":"line","encoding":{"x":{"field":"t","type":"quantitative","scale":{"domain":[-6.9,6.9],"nice":false,"zero":false},"axis":{"orient":"bottom","values":[-6,-4,-2,0,2,4,6],"labelExpr":"''+datum.value","title":null}},"y":{"field":"v","type":"quantitative","scale":{"domain":[-0.075,1.181],"nice":false,"zero":false},"axis":{"ticks":false,"labels":false,"title":null}}}}]},
{"width":166,"height":136,"layer":[
{"data":{"values":[{"p":"QS2 Item3"}]},"layer":[{"mark":"rect","encoding":{"x":{"datum":-6.9},"x2":{"datum":6.9},"y":{"datum":1.015},"y2":{"datum":1.181}}},{"mark":{"type":"text","style":"strip"},"encoding":{"x":{"datum":0},"y":{"datum":1.098},"text":{"field":"p"}}}]},
{"data":{"name":"QS2_Item3"},"mark":"line","encoding":{"x":{"field":"t","type":"quantitative","scale":{"domain":[-6.9,6.9],"nice":false,"zero":false},"axis":{"orient":"bottom","values":[-6,-4,-2,0,2,4,6],"labels":false,"title":null}},"y":{"field":"v","type":"quantitative","scale":{"domain":[-0.075,1.181],"nice":false,"zero":false},"axis":{"ticks":false,"labels":false,"title":null}}}}]},
{"width":166,"height":136,"layer":[
{"data":{"values":[{"p":"QS2 Item4"}]},"layer":[{"mark":"rect","encoding":{"x":{"datum":-6.9},"x2":{"datum":6.9},"y":{"datum":1.015},"y2":{"datum":1.181}}},{"mark":{"type":"text","style":"strip"},"encoding":{"x":{"datum":0},"y":{"datum":1.098},"text":{"field":"p"}}}]},
{"data":{"name":"QS2_Item4"},"mark":"line","encoding":{"x":{"field":"t","type":"quantitative","scale":{"domain":[-6.9,6.9],"nice":false,"zero":false},"axis":{"orient":"bottom","values":[-6,-4,-2,0,2,4,6],"labelExpr":"''+datum.value","title":null}},"y":{"field":"v","type":"quantitative","scale":{"domain":[-0.075,1.181],"nice":false,"zero":false},"axis":{"orient":"right","values":[0,0.2,0.4,0.6,0.8,1],"labels":false,"title":null}}}}]}
]}]}],
"config":{
"view":{"stroke":"#333333","strokeWidth":1},
"axis":{"domain":false,"grid":false,"tickCount":20,"tickColor":"#333333","tickWidth":1,"tickSize":10,"labelFont":"Liberation Sans","labelFontSize":16,"labelColor":"#333333","labelFlush":false,"labelOverlap":false},
"axisTop":{"labelPadding":4},
"axisBottom":{"labelPadding":13},
"axisLeft":{"labelPadding":10},
"axisRight":{"labelPadding":8},
"line":{"color":"#1a8cc4","strokeWidth":1.3,"interpolate":"monotone"},
"rect":{"fill":"#92d5f1","stroke":"#333333","strokeWidth":1},
"style":{
"strip":{"font":"Liberation Sans","fontSize":15,"color":"#222222","align":"center","baseline":"middle"},
"solo":{"font":"Lato","fontSize":28,"fontWeight":"bold","color":"#ef5a40","align":"right","baseline":"alphabetic"}
}
}
}
